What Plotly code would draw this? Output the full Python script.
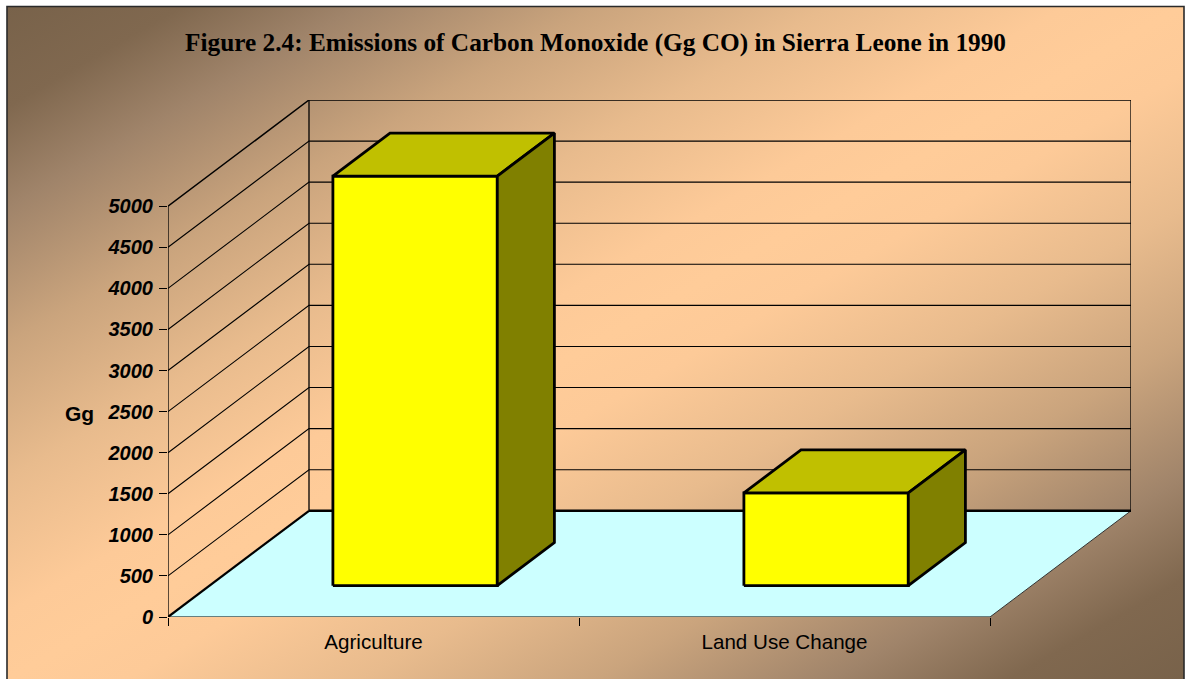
import base64
import plotly.graph_objects as go

# ---- data ----
categories = ["Agriculture", "Land Use Change"]
emissions = [4985, 1130]
value_ticks = [0, 500, 1000, 1500, 2000, 2500, 3000, 3500, 4000, 4500, 5000]
value_max = 5000
title_text = "Figure 2.4: Emissions of Carbon Monoxide (Gg CO) in Sierra Leone in 1990"
axis_title = "Gg"

# ---- oblique projection of the chart box (axis units) ----
W, H = 1185, 679
ML, MR, MT, MB = 168, 54, 100, 62
PW, PH = W - ML - MR, H - MT - MB
DEPTH_X = 141 / 411
DEPTH_Y = 1293
BAR_START, BAR_WIDTH = 0.3, 0.4
DEPTH_START, DEPTH_END = 0.295, 0.70
n = len(categories)


def project(c, v, d):
    return c + d * DEPTH_X, v + d * DEPTH_Y


def path(points):
    xy = [project(*p) for p in points]
    return [p[0] for p in xy], [p[1] for p in xy]


def poly(fig, points, fill=None, width=1.0, color="#000000", closed=False):
    if closed:
        points = points + points[:1]
    x, y = path(points)
    fig.add_trace(go.Scatter(
        x=x, y=y, mode="lines", line=dict(color=color, width=width),
        fill="toself" if fill else "none", fillcolor=fill,
        hoverinfo="skip", showlegend=False, cliponaxis=False,
    ))


fig = go.Figure()

# walls
for v in value_ticks:
    w = 1.5 if v == value_max else (0.0 if v == 0 else 1.1)
    if w:
        poly(fig, [(0, v, 0), (0, v, 1), (n, v, 1)], width=w)
poly(fig, [(0, 0, 0), (0, value_max, 0)], width=1.3)
poly(fig, [(0, 0, 1), (0, value_max, 1)], width=1.3)
poly(fig, [(n, 0, 1), (n, value_max, 1)], width=1.3)

# floor
poly(fig, [(0, 0, 0), (n, 0, 0), (n, 0, 1), (0, 0, 1)], fill="#CCFFFF", width=0.01, color="#CCFFFF", closed=True)
poly(fig, [(0, 0, 0), (n, 0, 0)], width=1.2)
poly(fig, [(n, 0, 0), (n, 0, 1)], width=1.0, color="#333333")
poly(fig, [(0, 0, 0), (0, 0, 1)], width=2.2)
poly(fig, [(0, 0, 1), (n, 0, 1)], width=2.4)

# bars
for i, val in enumerate(emissions):
    a, b = i + BAR_START, i + BAR_START + BAR_WIDTH
    d0, d1 = DEPTH_START, DEPTH_END
    poly(fig, [(a, 0, d0), (b, 0, d0), (b, val, d0), (a, val, d0)], fill="#FFFF00", width=2.8, closed=True)
    poly(fig, [(a, val, d0), (b, val, d0), (b, val, d1), (a, val, d1)], fill="#C0C000", width=2.8, closed=True)
    poly(fig, [(b, 0, d0), (b, 0, d1), (b, val, d1), (b, val, d0)], fill="#808000", width=2.8, closed=True)

# background gradient as a stretched SVG
stops = [(0.0, "#78624A"), (0.075, "#80684F"), (0.15, "#A0846A"), (0.25, "#CAA47D"),
         (0.35, "#E8BB8D"), (0.45, "#FDCA98"), (0.5, "#FFCC99"), (0.55, "#FDCA98"),
         (0.65, "#E8BB8D"), (0.75, "#CAA47D"), (0.85, "#A0846A"), (0.925, "#80684F"), (1.0, "#78624A")]
stop_tags = "".join(f'<stop offset="{o}" stop-color="{c}"/>' for o, c in stops)
svg = ('<svg xmlns="http://www.w3.org/2000/svg" width="1177" height="673" preserveAspectRatio="none">'
       f'<defs><linearGradient id="g" x1="0" y1="0" x2="1" y2="1">{stop_tags}</linearGradient></defs>'
       '<rect width="1177" height="673" fill="url(#g)"/></svg>')
src = "data:image/svg+xml;base64," + base64.b64encode(svg.encode()).decode()


def px(x):
    return (x - ML) / PW


def py(y):
    return (H - MB - y) / PH


font_sans = "Liberation Sans, Arial, sans-serif"
fig.update_layout(
    width=W, height=H, autosize=False,
    margin=dict(l=ML, r=MR, t=MT, b=MB, pad=0),
    paper_bgcolor="#FFFFFF", plot_bgcolor="rgba(0,0,0,0)",
    showlegend=False,
    title=dict(
        text=title_text, x=595.5 / W, xanchor="center", y=1 - 42 / H, yanchor="middle",
        font=dict(family="Liberation Serif, Times New Roman, serif", size=25.3, color="#000000", weight="bold"),
    ),
    xaxis=dict(
        range=[0, n + DEPTH_X], showgrid=False, zeroline=False, showline=False,
        tickmode="array", tickvals=[i + 0.5 for i in range(n)], ticktext=categories,
        ticks="", ticklabelstandoff=10, tickfont=dict(family=font_sans, size=20.6, color="#000000"),
        minor=dict(tickmode="array", tickvals=list(range(n + 1)), ticks="outside",
                   ticklen=8, tickwidth=1.2, tickcolor="#000000", showgrid=False),
    ),
    yaxis=dict(
        range=[0, value_max + DEPTH_Y], showgrid=False, zeroline=False, showline=False,
        tickmode="array", tickvals=value_ticks, ticks="outside", ticklen=8, tickwidth=1.2,
        tickcolor="#000000", ticklabelstandoff=2,
        tickfont=dict(family=font_sans, size=20, color="#000000", weight="bold", style="italic"),
    ),
    images=[dict(source=src, xref="paper", yref="paper", x=px(7), y=py(6), sizex=1177 / PW,
                 sizey=674 / PH, xanchor="left", yanchor="top", sizing="stretch", layer="below")],
    shapes=[dict(type="rect", xref="paper", yref="paper", x0=px(7), x1=px(1184), y0=py(690), y1=py(6.5),
                 line=dict(color="#2A2A2A", width=1.6), fillcolor="rgba(0,0,0,0)", layer="below")],
    annotations=[dict(text=axis_title, xref="paper", yref="paper", x=px(79), y=py(413), xanchor="center",
                      yanchor="middle", showarrow=False,
                      font=dict(family=font_sans, size=21, color="#000000", weight="bold"))],
)

fig.write_html(
    "out.html",
    config={"displayModeBar": False},
    post_script="document.body.style.margin='0';document.body.style.overflow='hidden';",
)
